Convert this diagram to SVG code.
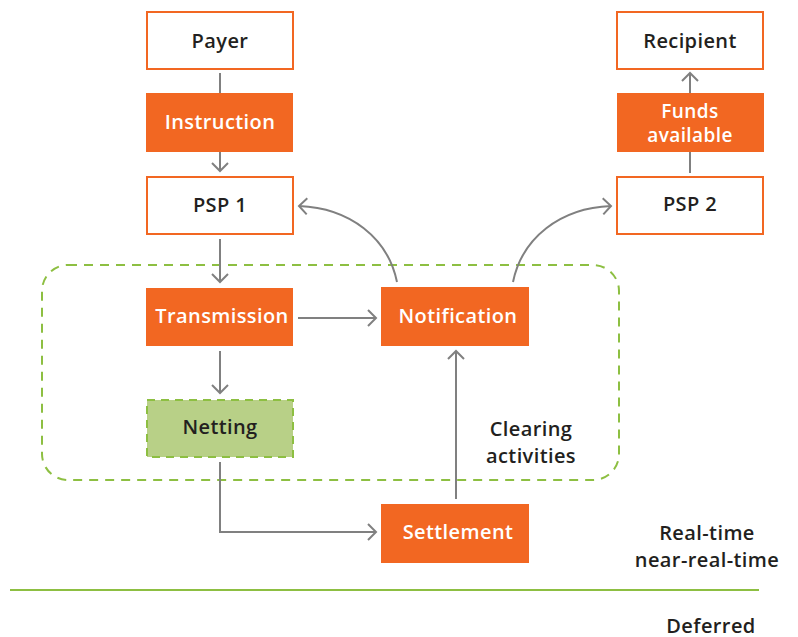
<svg xmlns="http://www.w3.org/2000/svg" width="798" height="637" viewBox="0 0 798 637">
  <defs>
    <style>
      .lbl { font-family: "Open Sans", "Liberation Sans", sans-serif; font-size: 20px; font-weight: 600; letter-spacing: 0.4px; text-anchor: middle; dominant-baseline: central; }
      .dark { fill: #231f20; }
      .light { fill: #ffffff; }
      .outline { fill: #ffffff; stroke: #f26722; stroke-width: 2; }
      .solid { fill: #f26722; }
      .conn { fill: none; stroke: #808080; stroke-width: 2; }
    </style>
    <marker id="chev" markerUnits="userSpaceOnUse" markerWidth="20" markerHeight="20" refX="10" refY="10" orient="auto">
      <path d="M2,2 L10,10 L2,18" fill="none" stroke="#808080" stroke-width="2"/>
    </marker>
  </defs>

  <!-- clearing area -->
  <g id="clearing-area">
    <rect x="42" y="265" width="577" height="215" rx="26" fill="none" stroke="#8dbf42" stroke-width="2" stroke-dasharray="9 7"/>
    <text class="lbl dark" x="531" y="428"><tspan x="531">Clearing</tspan><tspan x="531" dy="27">activities</tspan></text>
  </g>

  <!-- timing divider -->
  <g id="timing">
    <line x1="10" y1="590" x2="759" y2="590" stroke="#8dbf42" stroke-width="2"/>
    <text class="lbl dark" x="707" y="532"><tspan x="707">Real-time</tspan><tspan x="707" dy="27">near-real-time</tspan></text>
    <text class="lbl dark" x="711" y="625">Deferred</text>
  </g>

  <!-- connectors -->
  <g id="connectors">
    <line class="conn" x1="220" y1="73" x2="220" y2="93"/>
    <line class="conn" x1="220" y1="152" x2="220" y2="171" marker-end="url(#chev)"/>
    <line class="conn" x1="220" y1="239" x2="220" y2="282" marker-end="url(#chev)"/>
    <line class="conn" x1="220" y1="351" x2="220" y2="393" marker-end="url(#chev)"/>
    <line class="conn" x1="298" y1="318" x2="376" y2="318" marker-end="url(#chev)"/>
    <path class="conn" d="M220,462 L220,532 L376,532" marker-end="url(#chev)"/>
    <line class="conn" x1="456" y1="499" x2="456" y2="351" marker-end="url(#chev)"/>
    <path class="conn" d="M397,282 C388,238 350,208 299,206" marker-end="url(#chev)"/>
    <path class="conn" d="M513,282 C522,238 560,208 611,206" marker-end="url(#chev)"/>
    <line class="conn" x1="690" y1="173" x2="690" y2="152"/>
    <line class="conn" x1="690" y1="93" x2="690" y2="73" marker-end="url(#chev)"/>
  </g>

  <!-- nodes -->
  <g id="payer">
    <rect class="outline" x="147" y="12" width="146" height="57"/>
    <text class="lbl dark" x="220" y="40">Payer</text>
  </g>
  <g id="instruction">
    <rect class="solid" x="146" y="93" width="147" height="59"/>
    <text class="lbl light" x="220" y="121">Instruction</text>
  </g>
  <g id="psp1">
    <rect class="outline" x="147" y="177" width="146" height="57"/>
    <text class="lbl dark" x="220" y="204">PSP 1</text>
  </g>
  <g id="transmission">
    <rect class="solid" x="146" y="288" width="147" height="58"/>
    <text class="lbl light" x="222" y="315">Transmission</text>
  </g>
  <g id="netting">
    <rect x="147" y="400" width="146" height="57" fill="#b8d087" stroke="#8dbf42" stroke-width="2" stroke-dasharray="8 6"/>
    <text class="lbl dark" x="220" y="426">Netting</text>
  </g>
  <g id="notification">
    <rect class="solid" x="381" y="287" width="148" height="59"/>
    <text class="lbl light" x="458" y="315">Notification</text>
  </g>
  <g id="settlement">
    <rect class="solid" x="381" y="504" width="148" height="59"/>
    <text class="lbl light" x="458" y="531">Settlement</text>
  </g>
  <g id="psp2">
    <rect class="outline" x="617" y="177" width="146" height="57"/>
    <text class="lbl dark" x="690" y="203">PSP 2</text>
  </g>
  <g id="funds-available">
    <rect class="solid" x="617" y="93" width="147" height="59"/>
    <text class="lbl light" x="690" y="111" style="font-size:19px"><tspan x="690">Funds</tspan><tspan x="690" dy="24">available</tspan></text>
  </g>
  <g id="recipient">
    <rect class="outline" x="617" y="12" width="146" height="57"/>
    <text class="lbl dark" x="690" y="40">Recipient</text>
  </g>
</svg>
